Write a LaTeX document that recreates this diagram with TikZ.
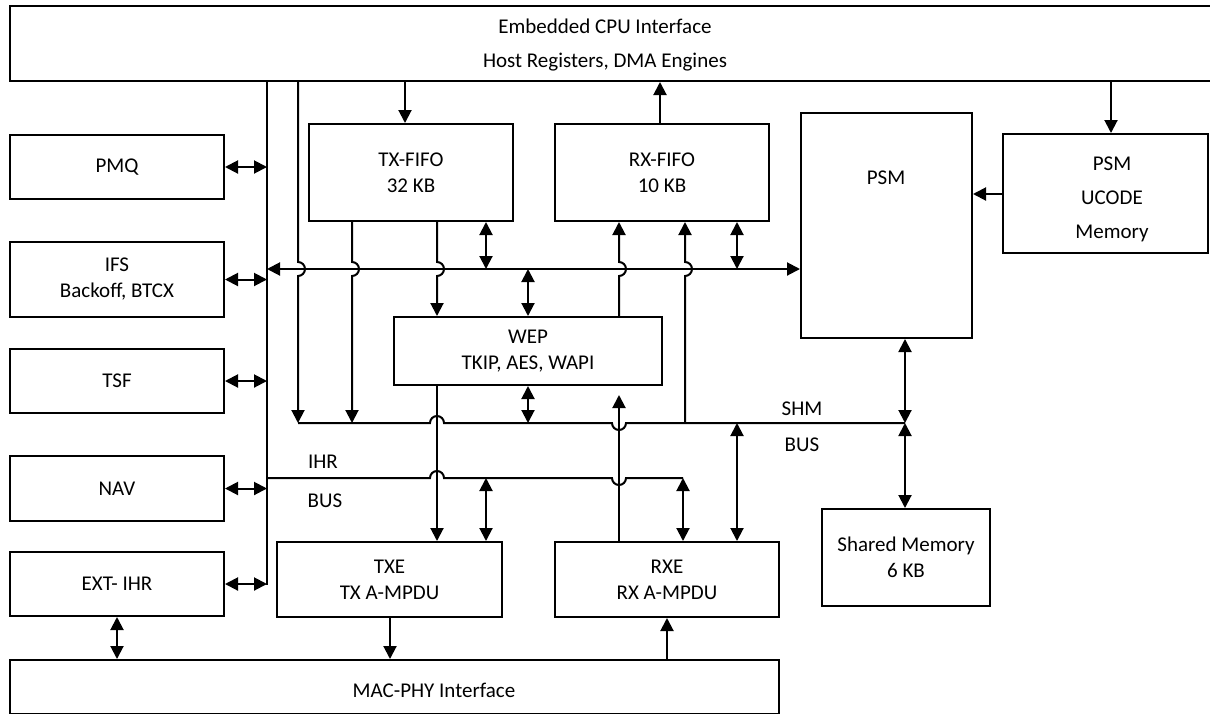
\documentclass[tikz,border=0pt]{standalone}
\usepackage{fontspec}
\setmainfont{Carlito}
\usetikzlibrary{arrows.meta,calc}
\begin{document}
\begin{tikzpicture}[x=1pt,y=-1pt,
  font=\fontsize{21}{26}\selectfont,
  >={Triangle[length=13pt,width=13pt]},
  box/.style={draw,line width=2pt,inner sep=0pt,align=center},
  ln/.style={line width=2pt},
  arr/.style={ln,->},
  darr/.style={ln,<->},
  lbl/.style={inner sep=0pt,align=center}]
\useasboundingbox (0,0) rectangle (1210,713);

% boxes
\node[box,minimum width=1204pt,minimum height=75pt] (cpu) at (612,43.5) {};
\node[lbl,anchor=base] (cput1) at (605,33) {Embedded CPU Interface};
\node[lbl,anchor=base] (cput2) at (605,67) {Host Registers, DMA Engines};

\node[box,minimum width=214pt,minimum height=64pt] (pmq) at (117,167) {PMQ};
\node[box,minimum width=214pt,minimum height=75pt] (ifs) at (117,279.5) {IFS\\Backoff, BTCX};
\node[box,minimum width=214pt,minimum height=64pt] (tsf) at (117,381) {TSF};
\node[box,minimum width=214pt,minimum height=65pt] (nav) at (117,488.5) {NAV};
\node[box,minimum width=214pt,minimum height=64pt] (ext) at (117,584) {EXT- IHR};

\node[box,minimum width=769pt,minimum height=54pt] (mac) at (394.5,687) {};
\node[lbl] (mact) at (434,690) {MAC-PHY Interface};

\node[box,minimum width=204pt,minimum height=97pt] (txf) at (411,172.5) {TX-FIFO\\32 KB};
\node[box,minimum width=214pt,minimum height=97pt] (rxf) at (662,172.5) {RX-FIFO\\10 KB};
\node[box,minimum width=171pt,minimum height=225pt] (psm) at (886.5,225.5) {};
\node[lbl] (psmt) at (886,178) {PSM};
\node[box,minimum width=205pt,minimum height=119pt] (ucode) at (1105.5,193.5) {};
\node[lbl] (ucodet) at (1112,199) {PSM\\[8pt]UCODE\\[8pt]Memory};
\node[box,minimum width=268pt,minimum height=68pt] (wep) at (528,351) {WEP\\TKIP, AES, WAPI};
\node[box,minimum width=225pt,minimum height=75pt] (txe) at (389.5,579.5) {TXE\\TX A-MPDU};
\node[box,minimum width=224pt,minimum height=75pt] (rxe) at (667,579.5) {RXE\\RX A-MPDU};
\node[box,minimum width=168pt,minimum height=97pt] (shm) at (906,557.5) {Shared Memory\\6 KB};

% bus labels
\node[lbl] (shml) at (802,409) {SHM};
\node[lbl] (shmb) at (802,445) {BUS};
\node[lbl] (ihrl) at (323,462) {IHR};
\node[lbl] (ihrb) at (325,501) {BUS};

% helper coordinates
\coordinate (mb) at (267,0);
\coordinate (hb) at (0,269);
\coordinate (sb) at (0,423);
\coordinate (ib) at (0,478);
\coordinate (h194) at (0,194);
\coordinate (mbend) at (267,585);
\foreach \v in {117,298,352,390,405,437,486,528,619,660,667,683,685,737,905,1111}
  {\coordinate (v\v) at (\v,0);}
\coordinate (wepgap) at ($(wep.south -| v619)+(0,9)$);

% main vertical bus
\draw[ln] (cpu.south -| mb) -- (mbend);
\foreach \b in {pmq,ifs,tsf,nav,ext} {\draw[darr] (\b.east) -- (\b.east -| mb);}

% horizontal bus to PSM
\draw[darr] (mb |- hb) -- (psm.west |- hb);

% SHM bus
\draw[ln] (sb -| v298) -- (430,423) arc[start angle=180,end angle=0,radius=7pt]
  -- (612,423) arc[start angle=180,end angle=360,radius=7pt] -- (sb -| v905);
% IHR bus
\draw[ln] (mb |- ib) -- (430,478) arc[start angle=180,end angle=0,radius=7pt]
  -- (612,478) arc[start angle=180,end angle=360,radius=7pt] -- (ib -| v683);

% verticals crossing the horizontal bus
\draw[arr] (cpu.south -| v298) -- (298,262) arc[start angle=90,end angle=-90,radius=7pt] -- (sb -| v298);
\draw[arr] (txf.south -| v352) -- (352,262) arc[start angle=90,end angle=-90,radius=7pt] -- (sb -| v352);
\draw[arr] (txf.south -| v437) -- (437,262) arc[start angle=90,end angle=-90,radius=7pt] -- (wep.north -| v437);
\draw[arr] (wep.north -| v619) -- (619,276) arc[start angle=-90,end angle=90,radius=7pt] -- (rxf.south -| v619);
\draw[arr] (sb -| v685) -- (685,276) arc[start angle=-90,end angle=90,radius=7pt] -- (rxf.south -| v685);

% short links
\draw[darr] (txf.south -| v486) -- (hb -| v486);
\draw[darr] (hb -| v528) -- (wep.north -| v528);
\draw[darr] (wep.south -| v528) -- (sb -| v528);
\draw[arr] (wep.south -| v437) -- (txe.north -| v437);
\draw[darr] (ib -| v486) -- (txe.north -| v486);
\draw[arr] (rxe.north -| v619) -- (wepgap);
\draw[darr] (rxf.south -| v737) -- (hb -| v737);
\draw[darr] (sb -| v737) -- (rxe.north -| v737);
\draw[darr] (ib -| v683) -- (rxe.north -| v683);
\draw[darr] (psm.south -| v905) -- (sb -| v905);
\draw[darr] (sb -| v905) -- (shm.north -| v905);

% CPU interface links
\draw[arr] (cpu.south -| v405) -- (txf.north -| v405);
\draw[arr] (rxf.north -| v660) -- (cpu.south -| v660);
\draw[arr] (cpu.south -| v1111) -- (ucode.north -| v1111);
\draw[arr] (ucode.west |- h194) -- (psm.east |- h194);

% MAC-PHY links
\draw[arr] (txe.south -| v390) -- (mac.north -| v390);
\draw[arr] (mac.north -| v667) -- (rxe.south -| v667);
\draw[darr] (ext.south -| v117) -- (mac.north -| v117);
\end{tikzpicture}
\end{document}
